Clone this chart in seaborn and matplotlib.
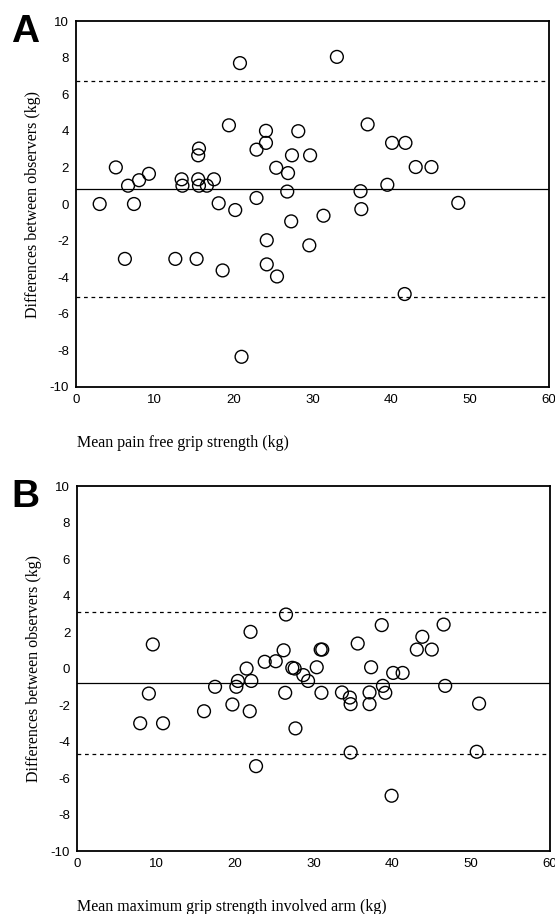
import pandas as pd
import seaborn as sb
import matplotlib.pyplot as plt

# panel A: mean pain free grip strength vs difference between observers
a_mean = [3.0, 5.05, 6.6, 7.35, 8.0, 9.25, 13.4, 13.5, 15.6, 15.5, 15.5, 15.6, 16.6, 17.5,
          18.1, 19.4, 20.2, 20.8, 22.9, 22.9, 24.1, 24.1, 25.4, 26.9, 26.8, 27.4, 27.3, 28.2,
          29.7, 31.4, 33.1, 36.1, 36.2, 37.0, 39.5, 40.1, 41.8, 43.1, 45.1, 48.5,
          6.2, 12.6, 15.3, 18.6, 24.2, 24.2, 25.5, 29.6, 41.7, 21.0]
a_diff = [0.0, 2.0, 1.0, 0.0, 1.3, 1.65, 1.35, 1.0, 3.03, 2.66, 1.35, 1.0, 1.0, 1.35,
          0.04, 4.3, -0.33, 7.7, 0.33, 2.97, 4.0, 3.34, 1.98, 1.69, 0.68, 2.66, -0.95, 3.98,
          2.66, -0.64, 8.04, 0.7, -0.28, 4.35, 1.05, 3.34, 3.34, 2.02, 2.02, 0.06,
          -3.0, -3.0, -3.0, -3.63, -1.98, -3.3, -3.96, -2.26, -4.92, -8.35]
a_bias = 0.8
a_limits = [6.7, -5.1]

# panel B: mean maximum grip strength involved arm
b_mean = [26.5, 22.0, 38.65, 46.5, 9.6, 35.6, 43.8, 43.1, 45.0, 26.2, 30.9, 31.1, 23.8, 25.2,
          21.5, 27.3, 27.6, 30.4, 37.3, 40.1, 41.3,
          8.0, 9.1, 10.9, 16.1, 17.5, 19.7, 20.2, 20.4, 22.1, 21.9, 22.7, 26.4, 27.7, 28.7,
          29.3, 31.0, 33.6, 34.6, 34.7, 34.7, 37.1, 37.1, 38.8, 39.1, 39.9, 46.7, 50.7, 51.0]
b_diff = [2.96, 2.01, 2.38, 2.41, 1.32, 1.37, 1.74, 1.04, 1.04, 1.0, 1.04, 1.04, 0.37, 0.4,
          0.0, 0.04, 0.0, 0.07, 0.07, -0.24, -0.24,
          -3.0, -1.37, -3.0, -2.34, -1.0, -1.97, -1.0, -0.68, -0.68, -2.34, -5.35, -1.33, -3.28, -0.36,
          -0.68, -1.33, -1.31, -1.59, -1.95, -4.6, -1.31, -1.95, -0.95, -1.33, -6.97, -0.95, -4.56, -1.92]
b_bias = -0.8
b_limits = [3.1, -4.7]

sb.set_style('white')
plt.rcParams['font.family'] = ['Liberation Sans', 'DejaVu Sans']
plt.rcParams['axes.unicode_minus'] = False
plt.rcParams['text.color'] = 'black'
plt.rcParams['axes.labelcolor'] = 'black'
plt.rcParams['xtick.color'] = 'black'
plt.rcParams['ytick.color'] = 'black'

fig = plt.figure(figsize=(5.55, 9.14), dpi=100)
ax_a = fig.add_axes([0.137, 0.5766, 0.852, 0.4004])
ax_b = fig.add_axes([0.139, 0.0689, 0.852, 0.3993])

panels = [
    (ax_a, a_mean, a_diff, a_bias, a_limits, 'Mean pain free grip strength (kg)', 'A'),
    (ax_b, b_mean, b_diff, b_bias, b_limits, 'Mean maximum grip strength involved arm (kg)', 'B'),
]

for ax, xs, ys, bias, lims, xlab, letter in panels:
    df = pd.DataFrame({'mean': xs, 'diff': ys})
    ax.axhline(bias, color='black', lw=0.9, zorder=1)
    for lim in lims:
        ax.axhline(lim, color='black', lw=0.9, ls=(0, (3, 3)), zorder=1)
    sb.scatterplot(data=df, x='mean', y='diff', ax=ax, s=85, marker='o',
                   facecolor='none', edgecolor='black', linewidth=1.0, zorder=3)
    ax.set_xlim(0, 60)
    ax.set_ylim(-10, 10)
    ax.set_xticks(range(0, 61, 10))
    ax.set_yticks(range(-10, 11, 2))
    ax.tick_params(axis='both', direction='out', length=3, width=1.6, color='black',
                   labelsize=9.5, pad=2)
    for s in ax.spines.values():
        s.set_color('black')
        s.set_linewidth(1.3)
    ax.set_xlabel('')
    ax.set_ylabel('Differences between observers (kg)', family='Liberation Serif',
                  fontsize=11.5, labelpad=6)
    pos = ax.get_position()
    fig.text(0.139, pos.y0 - 0.061, xlab, family='Liberation Serif', fontsize=11.5,
             ha='left', va='center')
    fig.text(0.02, pos.y1 - 0.012, letter, fontsize=28, fontweight='bold',
             ha='left', va='center')

fig.savefig('out.png', dpi=100)
